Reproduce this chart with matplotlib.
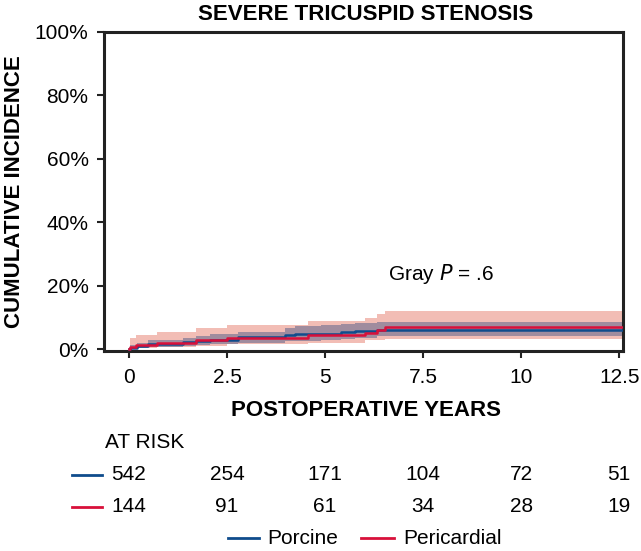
import matplotlib.pyplot as plt

plt.rcParams['font.family'] = ['Liberation Sans', 'DejaVu Sans']

# Porcine (blue) step curve and band, % cumulative incidence
por_t = [0, 0.03, 0.2, 0.49, 1.39, 1.71, 2.07, 2.79, 3.98, 4.23, 4.9, 5.4, 5.77, 6.32, 12.6]
por_y = [0, 0.3, 1.0, 1.6, 2.2, 2.6, 3.0, 3.7, 4.3, 4.6, 4.9, 5.3, 5.6, 6.0, 6.0]
por_lo = [0, 0.0, 0.3, 0.6, 1.0, 1.3, 1.6, 2.0, 2.4, 2.6, 2.8, 3.1, 3.4, 4.0, 4.0]
por_hi = [0, 1.4, 2.0, 2.8, 3.5, 4.0, 4.7, 5.5, 6.8, 7.3, 7.7, 8.0, 8.2, 8.6, 8.6]

# Pericardial (red)
per_t = [0, 0.02, 0.18, 0.71, 1.71, 2.51, 4.57, 6.02, 6.32, 6.53, 12.6]
per_y = [0, 0.7, 1.4, 1.9, 2.8, 3.5, 4.4, 5.2, 6.1, 7.0, 7.0]
per_lo = [0, 0.1, 0.3, 0.6, 1.1, 1.5, 1.9, 2.8, 2.8, 3.3, 3.3]
per_hi = [0, 3.5, 4.5, 5.5, 6.5, 7.6, 8.7, 9.8, 11.1, 12.1, 12.1]

years = [0, 2.5, 5, 7.5, 10, 12.5]
year_labels = ['0', '2.5', '5', '7.5', '10', '12.5']
risk_porcine = [542, 254, 171, 104, 72, 51]
risk_pericardial = [144, 91, 61, 34, 28, 19]

blue = '#0f4c8c'
red = '#d8103a'
FS = 15

fig = plt.figure(figsize=(6.41, 5.51), dpi=100)
ax = fig.add_axes([0.162, 0.363, 0.81, 0.579])

ax.fill_between(per_t, [v / 100 for v in per_lo], [v / 100 for v in per_hi], step='post',
                color='#f2bdb5', lw=0, zorder=1)
ax.fill_between(por_t, [v / 100 for v in por_lo], [v / 100 for v in por_hi], step='post',
                color='#a08c9e', lw=0, zorder=2)
ax.step(por_t, [v / 100 for v in por_y], where='post', color=blue, lw=1.8, zorder=3)
ax.step(per_t, [v / 100 for v in per_y], where='post', color=red, lw=1.8, zorder=4)

ax.set_xlim(-0.64, 12.6)
ax.set_ylim(-0.006, 1.0)
ax.set_xticks(years)
ax.set_xticklabels(year_labels)
ax.set_yticks([0, 0.2, 0.4, 0.6, 0.8, 1.0])
ax.set_yticklabels(['0%', '20%', '40%', '60%', '80%', '100%'])
ax.tick_params(labelsize=FS, length=5, width=1.5, color='#222222')
ax.tick_params(axis='x', pad=7)
ax.tick_params(axis='y', pad=6)
for s in ax.spines.values():
    s.set_linewidth(2.2)
    s.set_color('#222222')

fig.text(366 / 641, 1 - 14 / 551, 'SEVERE TRICUSPID STENOSIS', fontsize=16, fontweight='bold',
         ha='center', va='center')
fig.text(366 / 641, 1 - 410 / 551, 'POSTOPERATIVE YEARS', fontsize=16, fontweight='bold',
         ha='center', va='center')
fig.text(15 / 641, 1 - 192 / 551, 'CUMULATIVE INCIDENCE', fontsize=16, fontweight='bold',
         ha='center', va='center', rotation=90)

ax.text(6.6, 0.237, 'Gray $\\it{P}$ = .6', fontsize=FS, va='center', ha='left')

# at-risk table
fig.text(105 / 641, 1 - 443 / 551, 'AT RISK', fontsize=FS, va='center', ha='left')
for row_y, vals, col in [(475, risk_porcine, blue), (507, risk_pericardial, red)]:
    yy = 1 - row_y / 551
    fig.add_artist(plt.Line2D([72 / 641, 102 / 641], [yy, yy], color=col, lw=2))
    for x, v in zip(years, vals):
        xf = fig.transFigure.inverted().transform(ax.transData.transform((x, 0)))[0]
        fig.text(xf, yy, str(v), fontsize=FS, va='center', ha='center')

# legend
ly = 1 - 538 / 551
fig.add_artist(plt.Line2D([228 / 641, 259 / 641], [ly, ly], color=blue, lw=2))
fig.text(267 / 641, ly, 'Porcine', fontsize=FS, va='center', ha='left')
fig.add_artist(plt.Line2D([361 / 641, 394 / 641], [ly, ly], color=red, lw=2))
fig.text(403 / 641, ly, 'Pericardial', fontsize=FS, va='center', ha='left')

fig.savefig('out.png', dpi=100)
